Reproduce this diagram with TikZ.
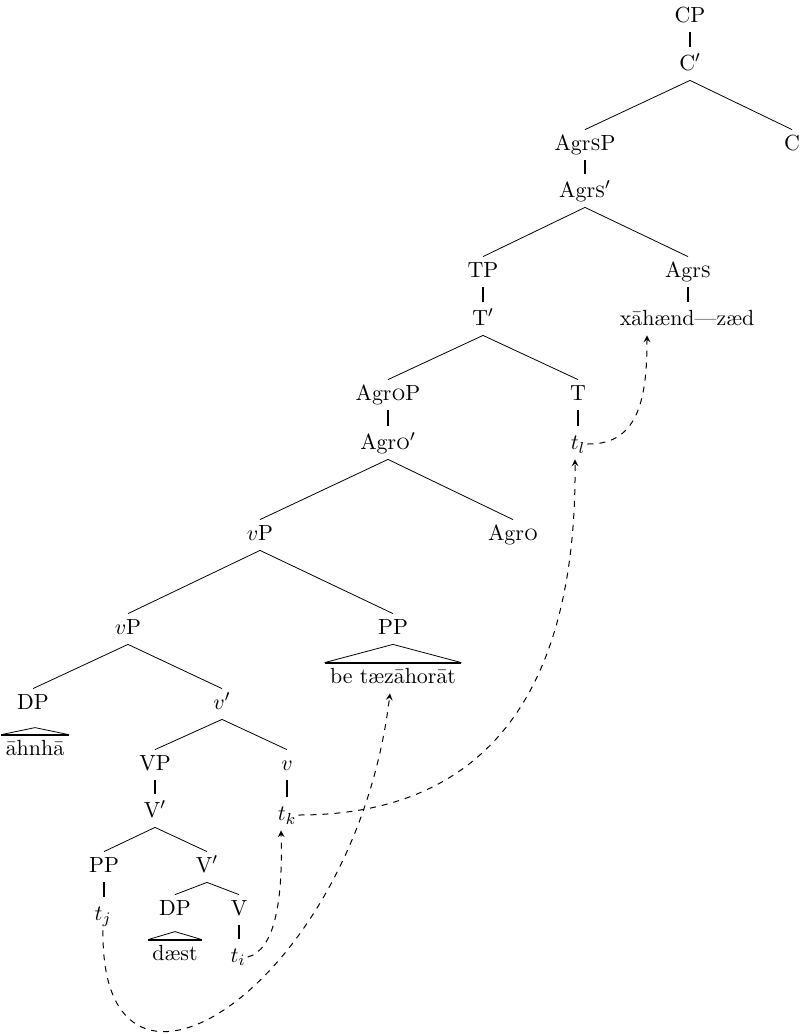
\documentclass[tikz,border=0pt]{standalone}
\usepackage{tikz}
\usetikzlibrary{arrows,calc}
\tikzset{
  >=stealth,
  cat/.style={
    anchor=base,
    yshift=-3.75pt,
    text height=7.7pt,
    text depth=2.2pt,
    inner ysep=2.55pt,
    inner xsep=1pt
  },
  leafword/.style={cat, inner xsep=2pt},
  branch/.style={line width=0.4pt},
  unary/.style={line width=0.9pt, shorten >=1.5pt},
  roof/.style={line width=0.4pt},
  roofbase/.style={line width=0.9pt},
  move/.style={->, dashed, line width=0.5pt}
}

\begin{document}
\begin{tikzpicture}[x=0.5pt, y=-0.5pt, font=\fontsize{10.95}{13}\selectfont]
  \useasboundingbox (0,0) rectangle (801,1034);

  % CP down to AgrsP
  \node[cat] (cp) at (690,15) {CP};
  \node[cat] (cbar) at (690,63) {C$'$};
  \node[cat] (agrsp) at (585,143) {Agr\textsc{s}P};
  \node[cat] (c) at (792,143) {C};
  \node[cat] (agrsbar) at (585,190) {Agr\textsc{s}$'$};
  \node[cat] (tp) at (483,270) {TP};
  \node[cat] (agrs) at (688,270) {Agr\textsc{s}};
  \node[cat] (tbar) at (483,318) {T$'$};
  \node[cat] (verb) at (687,318) {xāhænd—zæd};
  \node[cat] (agrop) at (388,393) {Agr\textsc{o}P};
  \node[cat] (t) at (578,393) {T};
  \node[cat] (agrobar) at (388,442) {Agr\textsc{o}$'$};
  \node[cat] (tl) at (578,442) {$t_l$};
  \node[cat] (vp) at (260,533) {$v$P};
  \node[cat] (agro) at (513,533) {Agr\textsc{o}};

  % lower vP shell
  \node[cat] (vplow) at (128,627) {$v$P};
  \node[cat] (pp) at (393,627) {PP};
  \node[leafword, inner xsep=2.5pt] (tez) at (393,676) {be tæzāhorāt};
  \node[cat] (dp) at (33,702) {DP};
  \node[cat] (vbar) at (222,702) {$v'$};
  \node[leafword] (anha) at (35,748) {āhnhā};
  \node[cat] (vpbig) at (155,763) {VP};
  \node[cat] (v) at (287,763) {$v$};
  \node[cat] (bigvbar) at (155,810) {V$'$};
  \node[cat] (tk) at (287,813) {$t_k$};
  \node[cat] (pplow) at (104,865) {PP};
  \node[cat] (vbarlow) at (207,865) {V$'$};
  \node[cat] (dplow) at (175,908) {DP};
  \node[cat] (verbv) at (239,908) {V};
  \node[cat] (tj) at (103,913) {$t_j$};
  \node[leafword] (daest) at (175,953) {dæst};
  \node[cat] (ti) at (238,955) {$t_i$};

  % branches
  \draw[branch] (cbar.south) -- (agrsp.north);
  \draw[branch] (cbar.south) -- (c.north);
  \draw[branch] (agrsbar.south) -- (tp.north);
  \draw[branch] (agrsbar.south) -- (agrs.north);
  \draw[branch] (tbar.south) -- (agrop.north);
  \draw[branch] (tbar.south) -- (t.north);
  \draw[branch] (agrobar.south) -- (vp.north);
  \draw[branch] (agrobar.south) -- (agro.north);
  \draw[branch] (vp.south) -- (vplow.north);
  \draw[branch] (vp.south) -- (pp.north);
  \draw[branch] (vplow.south) -- (dp.north);
  \draw[branch] (vplow.south) -- (vbar.north);
  \draw[branch] (vbar.south) -- (vpbig.north);
  \draw[branch] (vbar.south) -- (v.north);
  \draw[branch] (bigvbar.south) -- (pplow.north);
  \draw[branch] (bigvbar.south) -- (vbarlow.north);
  \draw[branch] (vbarlow.south) -- (dplow.north);
  \draw[branch] (vbarlow.south) -- (verbv.north);

  % unary branches
  \draw[unary] (cp.south) -- (cp.south |- cbar.north);
  \draw[unary] (agrsp.south) -- (agrsp.south |- agrsbar.north);
  \draw[unary] (tp.south) -- (tp.south |- tbar.north);
  \draw[unary] (agrs.south) -- (agrs.south |- verb.north);
  \draw[unary] (agrop.south) -- (agrop.south |- agrobar.north);
  \draw[unary] (t.south) -- (t.south |- tl.north);
  \draw[unary] (vpbig.south) -- (vpbig.south |- bigvbar.north);
  \draw[unary] (v.south) -- (v.south |- tk.north);
  \draw[unary] (pplow.south) -- (pplow.south |- tj.north);
  \draw[unary] (verbv.south) -- (verbv.south |- ti.north);

  % roofs
  \draw[roof] (tez.north west) -- (pp.south) -- (tez.north east);
  \draw[roofbase] (tez.north west) -- (tez.north east);
  \draw[roof] (anha.north west) -- ($(anha.north)+(0,-7)$) -- (anha.north east);
  \draw[roofbase] (anha.north west) -- (anha.north east);
  \draw[roof] (daest.north west) -- ($(daest.north)+(0,-8)$) -- (daest.north east);
  \draw[roofbase] (daest.north west) -- (daest.north east);

  % movement
  \draw[move] (ti.east) .. controls (275,950) and (283,900) .. ([xshift=-3pt]tk.south);
  \draw[move] (tj.south) .. controls (100,1150) and (355,985) .. ([xshift=-1.5pt]tez.south);
  \draw[move] (tk.east) .. controls (480,815) and (577,700) .. ([xshift=-1.5pt]tl.south);
  \draw[move] (tl.east) .. controls (640,445) and (647,395) .. ([xshift=-20pt]verb.south);
\end{tikzpicture}
\end{document}
